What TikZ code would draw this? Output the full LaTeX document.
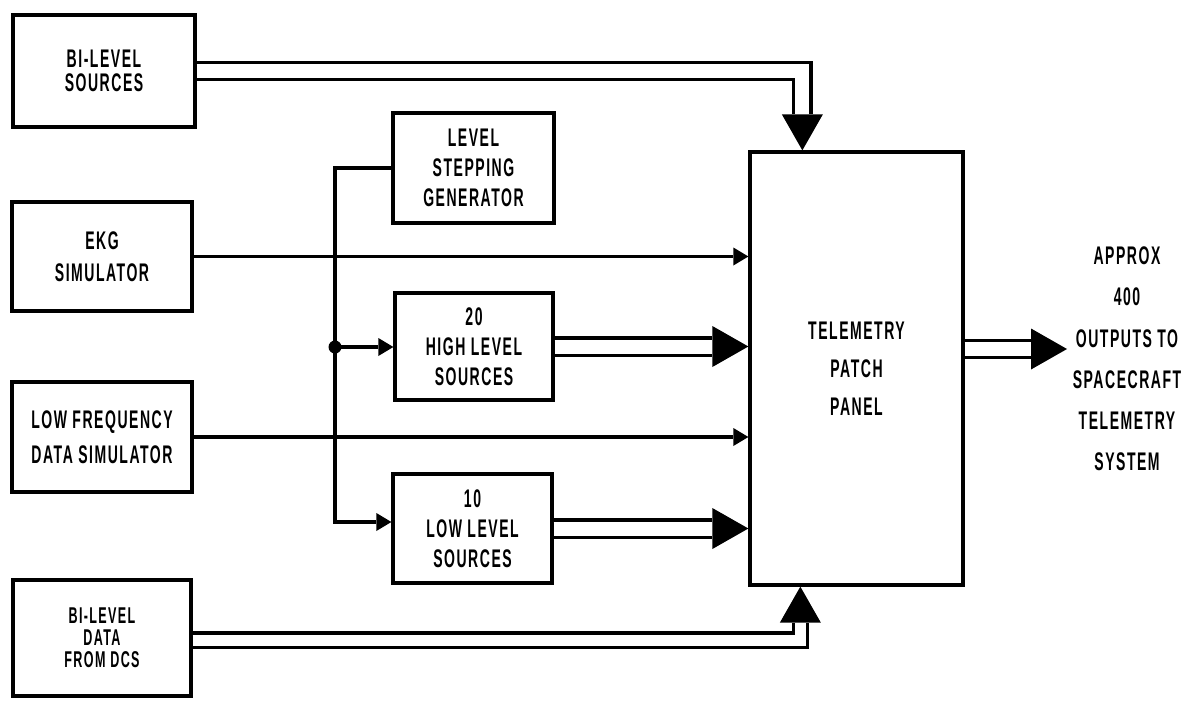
\documentclass[tikz,border=0pt]{standalone}
\usepackage{fontspec}
\newfontfamily\blockfont{Liberation Sans}[FakeStretch=0.55,LetterSpace=6]
\usepackage{tikz}
\usetikzlibrary{arrows.meta}
\usetikzlibrary{calc}

\tikzset{
  box/.style={draw, line width=1.9pt, align=center, inner sep=0pt,
    font=\blockfont\bfseries\fontsize{14.5pt}{#1}\selectfont},
  box/.default=17pt,
  sig/.style={line width=1.9pt, -{Triangle[line width=0pt,length=0.3cm,width=0.36cm]}},
  bus/.style={line width=1.9pt, double, double distance=0.28cm,
    -{Triangle[line width=0pt,length=0.72cm,width=0.82cm]}},
}

\begin{document}
\begin{tikzpicture}[x=0.02cm, y=-0.02cm]
  \useasboundingbox (0,0) rectangle (1197,700);
  % sources on the left
  \node[box=14pt, minimum width=3.64cm, minimum height=2.24cm] at (104,71) (biLevel) {BI-LEVEL\\SOURCES};
  \node[box=18pt, minimum width=3.6cm, minimum height=2.18cm] at (102,256.5) (ekg) {EKG\\SIMULATOR};
  \node[box=20pt, minimum width=3.6cm, minimum height=2.2cm] at (102,437) (lowFreq) {LOW FREQUENCY\\DATA SIMULATOR};
  \node[box, minimum width=3.56cm, minimum height=2.32cm, font=\blockfont\bfseries\fontsize{13pt}{12.5pt}\selectfont] at (102,638) (dcs) {BI-LEVEL\\DATA\\FROM DCS};
  % middle column
  \node[box, minimum width=3.22cm, minimum height=2.2cm] at (473.5,168) (stepGen) {LEVEL\\STEPPING\\GENERATOR};
  \node[box, minimum width=3.16cm, minimum height=2.14cm] at (474,346.5) (highLvl) {20\\HIGH LEVEL\\SOURCES};
  \node[box, minimum width=3.18cm, minimum height=2.18cm] at (472.5,528.5) (lowLvl) {10\\LOW LEVEL\\SOURCES};
  % patch panel and outputs
  \node[box=21.5pt, minimum width=4.26cm, minimum height=8.66cm] at (856.5,368.5) (patchPanel) {TELEMETRY\\PATCH\\PANEL};
  \node[align=center, inner sep=0pt, font=\blockfont\bfseries\fontsize{14.5pt}{23.5pt}\selectfont] at (1127,359) (outText) {APPROX\\400\\OUTPUTS TO\\SPACECRAFT\\TELEMETRY\\SYSTEM};
  \coordinate (outTip) at (1067,349);
  \node[circle, fill, inner sep=0pt, minimum size=0.26cm] at (335,347) (junction) {};

  \draw[bus] (biLevel.east) -| ($(patchPanel.north west)+(54,0)$);
  \draw[sig] (ekg.east) -- (ekg.east -| patchPanel.west);
  \draw[sig] (lowFreq.east) -- (lowFreq.east -| patchPanel.west);
  \draw[bus, double distance=0.22cm] ([yshift=-0.04cm]dcs.east) -| ($(patchPanel.south west)+(52,0)$);

  \draw[line width=1.9pt] (stepGen.west) -| (junction.center);
  \draw[sig] (junction.center) |- ([yshift=0.13cm]lowLvl.west);
  \draw[sig] (junction.center) -- (junction.center -| highLvl.west);
  \draw[bus] (highLvl.east) -- (highLvl.east -| patchPanel.west);
  \draw[bus] (lowLvl.east) -- (lowLvl.east -| patchPanel.west);
  \draw[bus] (patchPanel.east |- outTip) -- (outTip);
\end{tikzpicture}
\end{document}
